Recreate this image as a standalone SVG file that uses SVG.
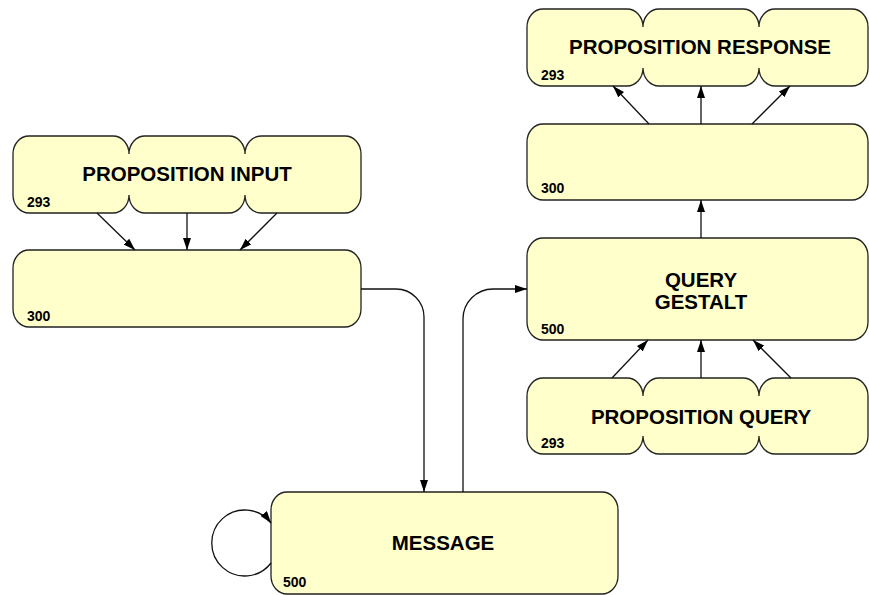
<svg xmlns="http://www.w3.org/2000/svg" width="869" height="595" viewBox="0 0 869 595">
  <style>
    .node { fill: #FFFFCC; stroke: #222; stroke-width: 1.3; }
    .title { font-family: "Liberation Sans", Arial, sans-serif; font-weight: bold; font-size: 20.5px; fill: #000; text-anchor: middle; }
    .num { font-family: "Liberation Sans", Arial, sans-serif; font-weight: bold; font-size: 14px; fill: #000; }
    .edge { fill: none; stroke: #111; stroke-width: 1.3; marker-end: url(#arrow); }
  </style>
  <defs>
    <marker id="arrow" viewBox="0 0 12 8" refX="12" refY="4" markerWidth="12" markerHeight="8" markerUnits="userSpaceOnUse" orient="auto">
      <path d="M0,0 L12,4 L0,8 z" fill="#000"/>
    </marker>
  </defs>

  <!-- Proposition input (three-lobed) -->
  <g id="proposition-input">
    <path class="node" d="M29,136 H113 A16,18 0 0 1 129,154 A16,18 0 0 1 145,136 H229 A16,18 0 0 1 245,154 A16,18 0 0 1 261,136 H345 A16,18 0 0 1 361,154 V195 A16,18 0 0 1 345,213 H261 A16,18 0 0 1 245,195 A16,18 0 0 1 229,213 H145 A16,18 0 0 1 129,195 A16,18 0 0 1 113,213 H29 A16,18 0 0 1 13,195 V154 A16,18 0 0 1 29,136 Z"/>
    <text class="title" x="187" y="181">PROPOSITION INPUT</text>
    <text class="num" x="27" y="207">293</text>
  </g>

  <!-- Left 300 box -->
  <g id="input-300">
    <rect class="node" x="13" y="250" width="348" height="77" rx="16" ry="18"/>
    <text class="num" x="27" y="321">300</text>
  </g>

  <!-- Proposition response (three-lobed) -->
  <g id="proposition-response">
    <path class="node" d="M543,9 H627 A16,18 0 0 1 643,27 A16,18 0 0 1 659,9 H743 A16,18 0 0 1 759,27 A16,18 0 0 1 775,9 H852 A16,18 0 0 1 868,27 V68 A16,18 0 0 1 852,86 H775 A16,18 0 0 1 759,68 A16,18 0 0 1 743,86 H659 A16,18 0 0 1 643,68 A16,18 0 0 1 627,86 H543 A16,18 0 0 1 527,68 V27 A16,18 0 0 1 543,9 Z"/>
    <text class="title" x="700" y="54">PROPOSITION RESPONSE</text>
    <text class="num" x="541" y="80">293</text>
  </g>

  <!-- Right 300 box -->
  <g id="response-300">
    <rect class="node" x="527" y="124" width="341" height="76" rx="16" ry="18"/>
    <text class="num" x="541" y="193">300</text>
  </g>

  <!-- Query gestalt -->
  <g id="query-gestalt">
    <rect class="node" x="527" y="238" width="341" height="102" rx="16" ry="18"/>
    <text class="title" x="701" y="287">QUERY</text>
    <text class="title" x="701" y="309">GESTALT</text>
    <text class="num" x="541" y="334">500</text>
  </g>

  <!-- Proposition query (three-lobed) -->
  <g id="proposition-query">
    <path class="node" d="M543,378 H627 A16,18 0 0 1 643,396 A16,18 0 0 1 659,378 H743 A16,18 0 0 1 759,396 A16,18 0 0 1 775,378 H852 A16,18 0 0 1 868,396 V436 A16,18 0 0 1 852,454 H775 A16,18 0 0 1 759,436 A16,18 0 0 1 743,454 H659 A16,18 0 0 1 643,436 A16,18 0 0 1 627,454 H543 A16,18 0 0 1 527,436 V396 A16,18 0 0 1 543,378 Z"/>
    <text class="title" x="701" y="424">PROPOSITION QUERY</text>
    <text class="num" x="541" y="448">293</text>
  </g>

  <!-- Message -->
  <g id="message">
    <rect class="node" x="271" y="492" width="347" height="102" rx="16" ry="18"/>
    <text class="title" x="443" y="550">MESSAGE</text>
    <text class="num" x="283" y="587">500</text>
  </g>

  <!-- Connectors -->
  <g id="connectors">
    <path class="edge" d="M97,213 L135,250"/>
    <path class="edge" d="M187,213 V250"/>
    <path class="edge" d="M277,213 L240,250"/>

    <path class="edge" d="M649,124 L613,86"/>
    <path class="edge" d="M701,124 V86"/>
    <path class="edge" d="M752,124 L790,86"/>

    <path class="edge" d="M701,238 V200"/>

    <path class="edge" d="M612,378 L648,340"/>
    <path class="edge" d="M701,378 V340"/>
    <path class="edge" d="M791,378 L753,340"/>

    <path class="edge" d="M361,289 H396 A28,28 0 0 1 424,317 V492"/>
    <path class="edge" d="M463,492 V319 A30,30 0 0 1 493,289 H527"/>

    <path class="edge" d="M271,563 A33,33 0 1 1 271,523"/>
  </g>
</svg>
